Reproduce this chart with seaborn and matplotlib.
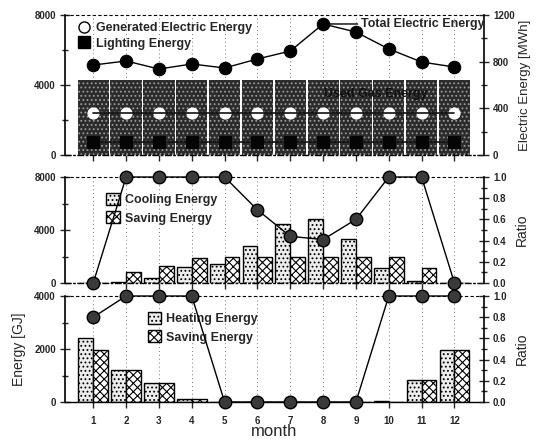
import numpy as np
import pandas as pd
import matplotlib
matplotlib.use("Agg")
import matplotlib.pyplot as plt
import seaborn as sns
from matplotlib.patches import Patch
from matplotlib.lines import Line2D
from matplotlib.ticker import MultipleLocator, FormatStrFormatter

sns.set_theme(style="white")
plt.rcParams["font.family"] = ["Liberation Sans", "DejaVu Sans"]
plt.rcParams["hatch.linewidth"] = 0.8

# ---- data -------------------------------------------------------------
months = list(range(1, 13))

# electric / gas balance (left axis GJ, right axis MWh)
gas_energy = [4300] * 12
generated_elec = [360] * 12
lighting_elec = [110] * 12
total_elec = [771, 806, 737, 780, 746, 823, 891, 1123, 1054, 909, 797, 754]

# cooling season
cooling = [0, 50, 380, 1210, 1460, 2790, 4480, 4860, 3350, 1160, 150, 0]
cooling_saving = [0, 800, 1280, 1890, 1960, 1960, 1960, 1960, 1960, 1960, 1160, 0]
cooling_ratio = [0, 1.0, 1.0, 1.0, 1.0, 0.69, 0.44, 0.41, 0.60, 1.0, 1.0, 0]

# heating season
heating = [2420, 1220, 720, 100, 0, 0, 0, 0, 0, 20, 840, 1950]
heating_saving = [1970, 1220, 720, 100, 0, 0, 0, 0, 0, 0, 840, 1950]
heating_ratio = [0.8, 1.0, 1.0, 1.0, 0, 0, 0, 0, 0, 1.0, 1.0, 1.0]

W, H = 536, 441
fig = plt.figure(figsize=(W / 100, H / 100), dpi=100)


def frac(x0, y_top, x1, y_bot):
    return [x0 / W, 1 - y_bot / H, (x1 - x0) / W, (y_bot - y_top) / H]


ax_e = fig.add_axes(frac(65, 15, 484, 155))
ax_c = fig.add_axes(frac(65, 177, 484, 283))
ax_h = fig.add_axes(frac(65, 296, 484, 402))

pos = np.arange(12)
XLIM = (-0.86, 11.9)
TICK_FONT = dict(labelsize=7)


def style_axes(ax, twin, bottom_solid=False):
    ax.set_xlim(*XLIM)
    ax.set_axisbelow(True)
    for x in pos:
        ax.axvline(x, color="#777777", lw=0.7, ls=(0, (1, 3)), zorder=0)
    ax.spines["top"].set_linestyle((0, (2, 3)))
    ax.spines["top"].set_linewidth(0.8)
    ax.spines["bottom"].set_linestyle("-" if bottom_solid else (0, (4, 2, 1, 2)))
    ax.spines["bottom"].set_linewidth(1.0)
    ax.spines["left"].set_linewidth(1.2)
    ax.spines["right"].set_visible(False)
    for s in ("top", "bottom", "left"):
        twin.spines[s].set_visible(False)
    twin.spines["right"].set_linewidth(1.2)
    for s in ax.spines.values():
        s.set_color("black")
    twin.spines["right"].set_color("black")
    ax.tick_params(axis="y", which="major", direction="inout", length=7, width=1,
                   left=True, pad=3, **TICK_FONT)
    ax.tick_params(axis="y", which="minor", direction="inout", length=4, width=1, left=True)
    twin.tick_params(axis="y", which="major", direction="inout", length=7, width=1,
                     right=True, pad=3, **TICK_FONT)
    twin.tick_params(axis="y", which="minor", direction="inout", length=4, width=1, right=True)
    ax.tick_params(axis="x", which="major", direction="out", length=4, width=1,
                   bottom=True, labelsize=7, pad=6)
    ax.set_xlabel("")
    ax.set_ylabel("")
    twin.set_ylabel("")
    for lab in ax.get_yticklabels() + twin.get_yticklabels() + ax.get_xticklabels():
        lab.set_fontweight("bold")


def paired_bars(ax, first, second, first_name, second_name):
    df = pd.DataFrame({
        "month": months * 2,
        "value": first + second,
        "kind": [first_name] * 12 + [second_name] * 12,
    })
    sns.barplot(data=df, x="month", y="value", hue="kind", ax=ax, width=0.9,
                dodge=True, legend=False, palette=["#ececec", "white"],
                edgecolor="black", linewidth=1.0, saturation=1)
    for container, hatch in zip(ax.containers, ["....", "xxxx"]):
        for bar in container:
            bar.set_hatch(hatch)


def ratio_line(twin, ratio):
    sns.lineplot(x=pos, y=ratio, ax=twin, color="black", lw=1.0, marker="o",
                 markersize=9, markerfacecolor="#3a3a3a", markeredgecolor="black",
                 markeredgewidth=1.0, clip_on=False, zorder=5)
    twin.set_ylim(0, 1.0)
    twin.yaxis.set_major_locator(MultipleLocator(0.2))
    twin.yaxis.set_minor_locator(MultipleLocator(0.1))
    twin.yaxis.set_major_formatter(FormatStrFormatter("%.1f"))


# ---- top: electric energy -------------------------------------------
df_gas = pd.DataFrame({"month": months, "gas": gas_energy})
sns.barplot(data=df_gas, x="month", y="gas", ax=ax_e, width=0.95, color="#2b2b2b",
            saturation=1, edgecolor="#9a9a9a", linewidth=0)
for bar in ax_e.patches:
    bar.set_hatch("....")
ax_e.set_ylim(0, 8000)
ax_e.yaxis.set_major_locator(MultipleLocator(4000))
ax_e.yaxis.set_minor_locator(MultipleLocator(2000))
ax_e.text(8.6, 3480, "Used Gas Energy", ha="center", va="center", fontsize=9,
          fontweight="bold", color="#111111", zorder=3)

tw_e = ax_e.twinx()
sns.lineplot(x=pos, y=generated_elec, ax=tw_e, color="black", lw=0, marker="o",
             markersize=8, markerfacecolor="white", markeredgecolor="white", zorder=3)
sns.lineplot(x=pos, y=generated_elec, ax=tw_e, color="#111111", lw=1.2, zorder=4)
sns.lineplot(x=pos, y=lighting_elec, ax=tw_e, color="#111111", lw=1.2, marker="s",
             markersize=9, markerfacecolor="#050505", markeredgecolor="#050505", zorder=3)
sns.lineplot(x=pos, y=total_elec, ax=tw_e, color="black", lw=1.0, marker="o",
             markersize=9, markerfacecolor="black", markeredgecolor="black", zorder=5)
tw_e.set_ylim(0, 1200)
tw_e.yaxis.set_major_locator(MultipleLocator(400))
tw_e.yaxis.set_minor_locator(MultipleLocator(200))
tw_e.annotate("Total Electric Energy", xy=(7, total_elec[7]), xytext=(8.15, total_elec[7]),
              fontsize=9, fontweight="bold", va="center", ha="left",
              arrowprops=dict(arrowstyle="-", color="black", lw=1.0, shrinkA=0, shrinkB=4))
style_axes(ax_e, tw_e)
ax_e.tick_params(axis="x", labelbottom=False)
tw_e.set_ylabel("Electric Energy [MWh]", fontsize=9.5, labelpad=3)

ax_e.legend(handles=[
    Line2D([], [], ls="none", marker="o", markersize=8, markerfacecolor="white",
           markeredgecolor="black", markeredgewidth=1.0),
    Line2D([], [], ls="none", marker="s", markersize=8, markerfacecolor="black",
           markeredgecolor="black"),
], labels=["Generated Electric Energy", "Lighting Energy"], loc="upper left",
    bbox_to_anchor=(0.018, 0.985), frameon=False, handlelength=1.0,
    handletextpad=0.5, labelspacing=0.3, borderaxespad=0, prop=dict(weight="bold", size=9))

# ---- middle: cooling --------------------------------------------------
paired_bars(ax_c, cooling, cooling_saving, "Cooling Energy", "Saving Energy")
ax_c.set_ylim(0, 8000)
ax_c.yaxis.set_major_locator(MultipleLocator(4000))
ax_c.yaxis.set_minor_locator(MultipleLocator(2000))
tw_c = ax_c.twinx()
ratio_line(tw_c, cooling_ratio)
style_axes(ax_c, tw_c)
ax_c.tick_params(axis="x", labelbottom=False)
tw_c.set_ylabel("Ratio", fontsize=10, labelpad=6)
ax_c.legend(handles=[
    Patch(facecolor="#ececec", edgecolor="black", hatch="...."),
    Patch(facecolor="white", edgecolor="black", hatch="xxxx"),
], labels=["Cooling Energy", "Saving Energy"], loc="upper left",
    bbox_to_anchor=(0.087, 0.90), frameon=False, handlelength=1.1, handleheight=1.1,
    handletextpad=0.35, labelspacing=0.45, borderaxespad=0, prop=dict(weight="bold", size=9))

# ---- bottom: heating --------------------------------------------------
paired_bars(ax_h, heating, heating_saving, "Heating Energy", "Saving Energy")
ax_h.set_ylim(0, 4000)
ax_h.yaxis.set_major_locator(MultipleLocator(2000))
ax_h.yaxis.set_minor_locator(MultipleLocator(1000))
tw_h = ax_h.twinx()
ratio_line(tw_h, heating_ratio)
style_axes(ax_h, tw_h, bottom_solid=True)
tw_h.set_ylabel("Ratio", fontsize=10, labelpad=6)
ax_h.set_ylabel("Energy [GJ]", fontsize=10, labelpad=6)
ax_h.set_xlabel("month", fontsize=12, labelpad=-1)
ax_h.legend(handles=[
    Patch(facecolor="#ececec", edgecolor="black", hatch="...."),
    Patch(facecolor="white", edgecolor="black", hatch="xxxx"),
], labels=["Heating Energy", "Saving Energy"], loc="upper left",
    bbox_to_anchor=(0.185, 0.90), frameon=False, handlelength=1.1, handleheight=1.1,
    handletextpad=0.35, labelspacing=0.45, borderaxespad=0, prop=dict(weight="bold", size=9))

fig.savefig("out.png", dpi=100, facecolor="white")
